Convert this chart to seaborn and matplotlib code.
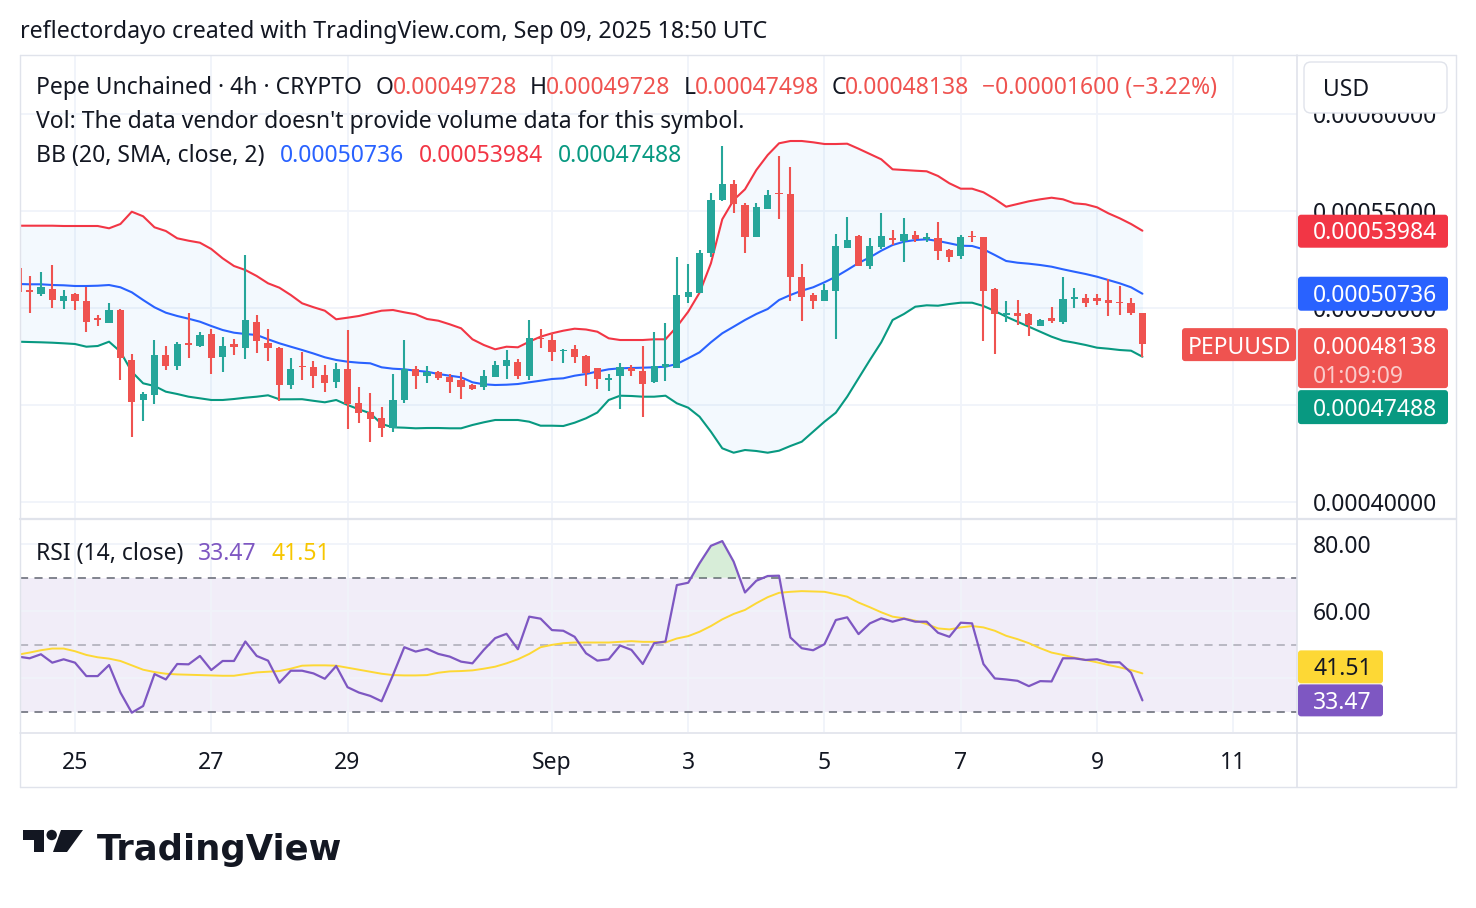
import numpy as np
import pandas as pd
import matplotlib
matplotlib.use("Agg")
import matplotlib.pyplot as plt
import matplotlib.dates as mdates
from matplotlib.patches import FancyBboxPatch, Polygon, Circle
from matplotlib.lines import Line2D
from matplotlib.transforms import IdentityTransform
import seaborn as sns

# ---------------- data (prices in units of 1e-8 USD) ----------------
UNIT = 1e-8
opens = [52046, 50928, 50722, 50979, 50376, 50722, 50361, 49469, 49242, 49897,
         47320, 45258, 45515, 47577, 47026, 48180, 48057, 48660, 47490, 48144,
         47954, 49278, 48180, 47954, 46031, 47010, 46948, 46546, 46201, 46856,
         45088, 44624, 44330, 43799, 45258, 46856, 46510, 46685, 46459, 46289,
         46031, 45912, 46459, 47010, 47232, 46495, 48454, 48350, 47783, 47871,
         47526, 46892, 46289, 46510, 46923, 46753, 46201, 46974, 46923, 50583,
         50789, 52851, 55567, 56392, 55309, 53675, 55103, 55943, 55876, 51613,
         50670, 50376, 50892, 53077, 53711, 52165, 53160, 53593, 53454, 53763,
         53572, 53624, 52990, 52696, 53727, 53675, 50964, 49639, 49727, 49691,
         49088, 49484, 49294, 50448, 50500, 50500, 50412, 50325, 50242, 49728]
highs = [52165, 51649, 51871, 52216, 50928, 50758, 51067, 49639, 50273, 49964,
         47629, 45670, 48350, 48057, 48263, 49727, 48763, 48902, 48521, 48387,
         52732, 49639, 48917, 48005, 47407, 47747, 47268, 47062, 47149, 48866,
         45943, 45603, 44912, 46598, 48350, 47010, 47010, 46768, 46598, 46716,
         46082, 46804, 47268, 47835, 47371, 49381, 48902, 48727, 47871, 48077,
         47577, 46923, 46582, 47149, 47062, 48041, 48778, 49242, 52644, 52268,
         52990, 55912, 58366, 56598, 55428, 55428, 56082, 57835, 57283, 52268,
         50758, 51237, 53814, 54675, 53763, 53593, 54912, 54021, 54655, 53985,
         53881, 54448, 53026, 53763, 53969, 53675, 51015, 50361, 50412, 49758,
         49418, 50067, 51582, 51015, 50722, 50722, 51479, 51134, 50500, 49728]
lows = [50773, 49742, 50634, 50015, 49964, 49897, 48778, 49088, 49211, 46289,
        43366, 44191, 45067, 46804, 46804, 47438, 48005, 46598, 46701, 47577,
        47371, 47696, 47283, 45222, 45840, 46263, 45902, 45686, 45892, 43763,
        44088, 43108, 43366, 43624, 45119, 45825, 46149, 46289, 45634, 45309,
        45773, 45773, 46459, 46325, 46325, 46289, 47923, 47283, 47180, 47149,
        45979, 45825, 45737, 44778, 46495, 44397, 46118, 46253, 46923, 50242,
        50758, 52613, 55531, 54881, 52851, 53675, 55103, 54588, 50376, 49345,
        49948, 50376, 48402, 53077, 52180, 52010, 53041, 53247, 52387, 53418,
        53418, 52474, 52387, 52526, 53418, 48299, 47629, 49294, 49124, 48557,
        49072, 49211, 49160, 49984, 50036, 50155, 49603, 49639, 49639, 47498]
closes = [50840, 50825, 51067, 50428, 50618, 50376, 49294, 49381, 49897, 47438,
          45170, 45567, 47577, 47026, 48144, 48108, 48608, 47438, 48041, 48005,
          49381, 48314, 47954, 46031, 46856, 46959, 46510, 46149, 46856, 45052,
          44603, 44278, 43799, 45258, 46856, 46510, 46685, 46407, 46201, 45943,
          45825, 46495, 47062, 47320, 46495, 48438, 48387, 47747, 47835, 47490,
          46665, 46325, 46392, 46943, 46753, 46082, 47010, 47098, 50670, 50825,
          52851, 55567, 56392, 55361, 53675, 55191, 55825, 55861, 51582, 50583,
          50376, 50928, 53196, 53505, 52180, 53196, 53711, 53505, 53814, 53541,
          53644, 52954, 52644, 53675, 53644, 50892, 49691, 49758, 49588, 49124,
          49381, 49345, 50464, 50551, 50273, 50376, 50242, 50242, 49738, 48138]
bb_upper = [54242, 54242, 54242, 54242, 54227, 54227, 54227, 54227, 54108, 54330,
            54964, 54727, 54160, 53969, 53593, 53469, 53366, 53041, 52562, 52165,
            51959, 51649, 51273, 51046, 50670, 50242, 50041, 49861, 49418, 49500,
            49588, 49727, 49861, 49897, 49778, 49675, 49433, 49345, 49160, 48954,
            48387, 48093, 47871, 48005, 47974, 48263, 48521, 48696, 48830, 48933,
            48892, 48778, 48438, 48350, 48350, 48350, 48387, 48387, 49036, 49809,
            50789, 52304, 54572, 55567, 56118, 57113, 57886, 58490, 58608, 58608,
            58541, 58453, 58453, 58469, 58211, 57938, 57665, 57149, 57113, 57077,
            57046, 56804, 56428, 56150, 56150, 55964, 55618, 55222, 55361, 55500,
            55603, 55685, 55603, 55397, 55345, 55191, 54881, 54624, 54330, 53984]
bb_basis = [51237, 51222, 51222, 51185, 51170, 51134, 51134, 51149, 51185, 51067,
            50809, 50412, 50036, 49758, 49588, 49448, 49294, 49072, 48866, 48727,
            48660, 48608, 48387, 48180, 48005, 47835, 47655, 47459, 47320, 47232,
            47180, 47149, 46943, 46871, 46840, 46768, 46716, 46598, 46510, 46428,
            46170, 46067, 46031, 46046, 46082, 46170, 46253, 46340, 46376, 46510,
            46598, 46727, 46840, 46892, 46907, 46923, 46943, 46974, 47113, 47407,
            47716, 48232, 48696, 49036, 49381, 49691, 49948, 50412, 50670, 50892,
            51067, 51325, 51613, 51959, 52320, 52613, 52954, 53247, 53418, 53505,
            53541, 53454, 53335, 53211, 53196, 53026, 52732, 52423, 52335, 52284,
            52216, 52129, 51995, 51871, 51752, 51613, 51443, 51273, 51067, 50736]
bb_lower = [48263, 48247, 48232, 48211, 48180, 48144, 48005, 48041, 48263, 47747,
            46716, 46118, 45979, 45686, 45567, 45428, 45345, 45258, 45258, 45309,
            45376, 45428, 45500, 45294, 45294, 45299, 45216, 45139, 45258, 45000,
            44778, 44572, 44021, 43850, 43830, 43799, 43814, 43814, 43799, 43799,
            43969, 44108, 44227, 44227, 44227, 44139, 43933, 43933, 43917, 44088,
            44314, 44613, 45258, 45479, 45464, 45428, 45428, 45479, 45088, 44861,
            44397, 43624, 42768, 42541, 42680, 42629, 42541, 42644, 42887, 43108,
            43624, 44139, 44603, 45428, 46376, 47320, 48232, 49381, 49691, 50067,
            50139, 50118, 50206, 50273, 50273, 50103, 49845, 49552, 49294, 49036,
            48778, 48521, 48314, 48211, 48093, 47954, 47902, 47835, 47799, 47488]
rsi = [46.5, 46.0, 47.2, 44.7, 45.7, 44.7, 40.7, 40.7, 44.0, 35.8,
       29.8, 31.8, 41.3, 39.7, 44.3, 44.2, 46.7, 42.5, 45.2, 45.2,
       51.0, 46.7, 45.3, 38.7, 42.3, 42.3, 41.5, 39.9, 43.7, 37.4,
       35.8, 34.8, 33.2, 41.0, 49.3, 48.0, 48.8, 47.3, 46.5, 45.0,
       44.5, 48.5, 52.0, 53.3, 48.7, 58.4, 57.8, 54.4, 54.2, 52.4,
       47.5, 45.3, 45.7, 49.8, 48.5, 44.3, 50.5, 51.0, 67.8, 68.5,
       74.3, 79.5, 80.9, 74.8, 65.6, 69.1, 70.5, 70.6, 52.2, 49.0,
       48.4, 50.2, 57.4, 58.2, 53.2, 56.4, 57.9, 56.9, 57.8, 56.9,
       56.9, 53.6, 52.4, 56.6, 56.4, 44.3, 40.0, 39.7, 39.3, 37.7,
       39.2, 39.1, 46.0, 46.0, 45.5, 45.7, 44.8, 44.8, 41.7, 33.47]
rsi_ma = [47.1, 47.7, 48.4, 48.9, 48.9, 48.1, 47.0, 46.3, 45.9, 45.2,
          43.9, 42.6, 41.9, 41.4, 41.2, 41.1, 41.0, 40.9, 40.8, 40.8,
          41.3, 41.8, 42.0, 42.2, 42.9, 43.8, 43.9, 43.9, 43.8, 43.2,
          42.6, 42.0, 41.4, 41.0, 40.9, 40.9, 41.0, 41.7, 42.1, 42.2,
          42.4, 42.9, 43.5, 44.5, 45.7, 47.3, 49.3, 50.0, 50.5, 50.7,
          50.7, 50.7, 50.7, 50.9, 51.1, 50.9, 50.9, 50.7, 51.9, 52.6,
          53.9, 55.6, 57.6, 59.2, 60.4, 62.4, 64.2, 65.5, 65.8, 66.0,
          65.9, 65.8, 65.1, 64.35, 62.6, 61.2, 59.7, 58.4, 57.9, 57.2,
          56.2, 54.9, 54.6, 55.2, 55.6, 55.2, 54.2, 52.7, 51.7, 50.5,
          49.0, 47.7, 47.0, 46.2, 45.5, 44.8, 44.0, 43.3, 42.5, 41.51]
first_candle = "2025-08-24 04:00"
tick_dates = ["2025-08-25", "2025-08-27", "2025-08-29", "2025-09-01", "2025-09-03",
              "2025-09-05", "2025-09-07", "2025-09-09", "2025-09-11"]
tick_labels = ["25", "27", "29", "Sep", "3", "5", "7", "9", "11"]
price_ticks = [0.00040, 0.00045, 0.00050, 0.00055, 0.00060]
rsi_ticks = [40, 60, 80]
rsi_tick_labels = ["", "60.00", "80.00"]   # 40.00 is hidden behind the value tags
symbol = "PEPUUSD"
countdown = "01:09:09"
title = "reflectordayo created with TradingView.com, Sep 09, 2025 18:50 UTC"
header = "Pepe Unchained · 4h · CRYPTO"
vol_text = "Vol: The data vendor doesn't provide volume data for this symbol."
bb_text = "BB (20, SMA, close, 2)"
rsi_text = "RSI (14, close)"

# ---------------- styling ----------------
sns.set_theme(style="white")
FONT = ["Noto Sans", "DejaVu Sans"]
plt.rcParams["font.family"] = FONT
TXT = "#131722"
UP, DOWN = "#26a69a", "#ef5350"
GRID = "#f0f3fa"
BORDER = "#e0e3eb"
FS = 16.5
DY = 2.5

O = np.array(opens) * UNIT
Hh = np.array(highs) * UNIT
Lw = np.array(lows) * UNIT
C = np.array(closes) * UNIT
U = np.array(bb_upper) * UNIT
M = np.array(bb_basis) * UNIT
Lo = np.array(bb_lower) * UNIT
R = np.array(rsi)
RM = np.array(rsi_ma)

times = pd.date_range(first_candle, periods=len(closes), freq="4h")
xn = mdates.date2num(times)
tnums = mdates.date2num(pd.to_datetime(tick_dates))

W, H = 1476, 908
fig = plt.figure(figsize=(W / 100, H / 100), dpi=100)
fig.patch.set_facecolor("white")


def fx(x):
    return x / W


def fy(y):
    return 1 - y / H


ax = fig.add_axes([fx(20), fy(518), fx(1297) - fx(20), fy(55) - fy(518)])
ax2 = fig.add_axes([fx(20), fy(732), fx(1297) - fx(20), fy(520) - fy(732)], sharex=ax)

px_per_day = (1097 - 75) / 15.0
d25 = tnums[0]
ax.set_xlim(d25 - 55 / px_per_day, d25 + 1222 / px_per_day)
ymin = 0.00040 - 16 * (0.00005 / 97)
ymax = 0.00040 + 447 * (0.00005 / 97)
ax.set_ylim(ymin, ymax)
rmin = 70 - 154.3 / 3.358
rmax = 70 + 57.7 / 3.358
ax2.set_ylim(rmin, rmax)

for a in (ax, ax2):
    for s in a.spines.values():
        s.set_visible(False)
    a.set_facecolor("white")
    a.set_axisbelow(True)
    a.grid(True, color=GRID, lw=1.3)
    a.set_xticks(tnums)

# ---- price pane ----
ax.fill_between(xn, U, Lo, color="#2196f3", alpha=0.05, lw=0, zorder=1)
sns.lineplot(x=xn, y=U, ax=ax, color="#f23645", lw=1.5, zorder=2)
sns.lineplot(x=xn, y=M, ax=ax, color="#2962ff", lw=1.5, zorder=2)
sns.lineplot(x=xn, y=Lo, ax=ax, color="#089981", lw=1.5, zorder=2)

colors = np.where(C >= O, UP, DOWN)
dp = (ymax - ymin) / 463.0
body_lo = np.minimum(O, C)
body_h = np.abs(C - O)
small = body_h < 1.6 * dp
body_lo = np.where(small, (O + C) / 2 - 0.8 * dp, body_lo)
body_h = np.where(small, 1.6 * dp, body_h)
ax.vlines(xn, Lw, Hh, colors=colors, lw=1.5, zorder=3)
ax.bar(xn, body_h, bottom=body_lo, width=7.2 / px_per_day, color=colors, lw=0, zorder=4)

ax.yaxis.tick_right()
ax.set_yticks(price_ticks)
ax.set_yticklabels([f"{v:.8f}" for v in price_ticks])
ax.tick_params(axis="y", length=0, pad=11.5, labelsize=FS, labelcolor=TXT)
ax.tick_params(axis="x", length=0, labelbottom=False)
ax.set_xlabel("")
ax.set_ylabel("")

# ---- RSI pane ----
ax2.axhspan(30, 70, color="#7e57c2", alpha=0.1, lw=0, zorder=0.5)
ax2.axhline(70, color="#787b86", lw=1.3, ls=(0, (4.5, 3.5)), zorder=1)
ax2.axhline(50, color="#787b86", lw=1.3, ls=(0, (4.5, 3.5)), alpha=0.5, zorder=1)
ax2.axhline(30, color="#787b86", lw=1.3, ls=(0, (4.5, 3.5)), zorder=1)
ax2.fill_between(xn, R, 70, where=R > 70, interpolate=True, color="#4caf50", alpha=0.22, lw=0, zorder=1.5)
sns.lineplot(x=xn, y=RM, ax=ax2, color="#fdd835", lw=1.4, zorder=2)
sns.lineplot(x=xn, y=R, ax=ax2, color="#7e57c2", lw=1.6, zorder=3)
ax2.yaxis.tick_right()
ax2.set_yticks(rsi_ticks)
ax2.set_yticklabels(rsi_tick_labels)
ax2.tick_params(axis="y", length=0, pad=11.5, labelsize=FS, labelcolor=TXT)
ax2.set_xticklabels(tick_labels)
ax2.tick_params(axis="x", length=0, pad=13.5, labelsize=FS, labelcolor=TXT)
for lab in ax2.get_xticklabels():
    if lab.get_text() == "Sep":
        lab.set_fontweight("bold")
ax2.set_xlabel("")
ax2.set_ylabel("")

# ---------------- frame lines ----------------
ID = IdentityTransform()


def hline(y, x0, x1, lw=1.0, color=BORDER):
    fig.add_artist(Line2D([x0, x1], [H - y, H - y], transform=ID, color=color, lw=lw))


def vline(x, y0, y1, lw=1.0, color=BORDER):
    fig.add_artist(Line2D([x, x], [H - y0, H - y1], transform=ID, color=color, lw=lw))


hline(55, 20, 1456)
hline(787, 20, 1456)
vline(20, 55, 787)
vline(1456, 55, 787)
hline(519, 20, 1456, lw=1.6)
hline(733, 20, 1456, lw=1.2)
vline(1297, 55, 787, lw=1.2)

# ---------------- text ----------------
fig.text(fx(20), fy(30 + DY), title, fontsize=16.7, color=TXT, va="center", ha="left")
renderer = fig.canvas.get_renderer()


def segments(x, y, parts):
    for s, col, gap in parts:
        t = fig.text(fx(x), fy(y + DY), s, color=col, fontsize=FS, va="center", ha="left")
        bb = t.get_window_extent(renderer=renderer)
        x = x + bb.width + gap


RED = "#f23645"
chg = closes[-1] - closes[-2]
pct = chg / closes[-2] * 100
segments(36, 85, [(header, TXT, 14), ("O", TXT, -1), (f"{O[-1]:.8f}", DOWN, 13),
                  ("H", TXT, -1), (f"{Hh[-1]:.8f}", DOWN, 13),
                  ("L", TXT, -1), (f"{Lw[-1]:.8f}", DOWN, 13),
                  ("C", TXT, -1), (f"{C[-1]:.8f}", DOWN, 13),
                  (f"\u2212{abs(chg) * UNIT:.8f} (\u2212{abs(pct):.2f}%)", DOWN, 0)])
segments(36, 119, [(vol_text, TXT, 0)])
segments(36, 153, [(bb_text, TXT, 15), (f"{M[-1]:.8f}", "#2962ff", 15),
                   (f"{U[-1]:.8f}", RED, 15), (f"{Lo[-1]:.8f}", "#089981", 0)])
segments(36, 551, [(rsi_text, TXT, 15), (f"{R[-1]:.2f}", "#7e57c2", 15),
                   (f"{RM[-1]:.2f}", "#f7c600", 0)])


# ---------------- price tags ----------------
def ypx(a, v):
    return H - a.transData.transform((0, v))[1]


def box(x0, x1, y0, y1, fc, ec="none", r=3):
    fig.add_artist(FancyBboxPatch((x0, H - y1), x1 - x0, y1 - y0, transform=ID,
                                  boxstyle=f"round,pad=0,rounding_size={r}", fc=fc, ec=ec, lw=1, zorder=5))


def label(x, y, s, col, ha="left", alpha=1.0):
    fig.text(x, H - (y + DY), s, transform=ID, color=col, fontsize=FS, va="center", ha=ha,
             alpha=alpha, zorder=6)


box(1304, 1447, 62, 113, "white", ec=BORDER, r=7)
label(1323, 88, "USD", TXT)

yu = ypx(ax, U[-1])
box(1298, 1448, yu - 16, yu + 17, "#f23645")
label(1313, yu, f"{U[-1]:.8f}", "white")

ym = ypx(ax, M[-1])
box(1298, 1448, ym - 17, ym + 17, "#2962ff")
label(1313, ym, f"{M[-1]:.8f}", "white")

yc = ypx(ax, C[-1])
box(1298, 1448, yc - 16, yc + 44, "#ef5350")
label(1313, yc + 1, f"{C[-1]:.8f}", "white")
label(1313, yc + 30, countdown, "white", alpha=0.7)
box(1182, 1296, yc - 16, yc + 17, "#ef5350")
label(1239, yc + 1, symbol, "white", ha="center")

yl = yc + 63
box(1298, 1448, yl - 17, yl + 17, "#089981")
label(1313, yl, f"{Lo[-1]:.8f}", "white")

yr = ypx(ax2, R[-1])
box(1298, 1383, yr - 16, yr + 16, "#7e57c2")
label(1313, yr, f"{R[-1]:.2f}", "white")
ya = yr - 34
box(1298, 1383, ya - 16, ya + 17, "#fdd835")
label(1313, ya, f"{RM[-1]:.2f}", TXT)


# ---------------- TradingView logo ----------------
def P(pts):
    return [(x, H - y) for x, y in pts]


fig.add_artist(Polygon(P([(23, 830), (44, 830), (44, 852), (34, 852), (34, 840), (23, 840)]),
                       closed=True, transform=ID, fc="#131722", ec="none"))
fig.add_artist(Circle((51.7, H - 835), 5.2, transform=ID, fc="#131722", ec="none"))
fig.add_artist(Polygon(P([(61, 830), (83, 830), (67, 852), (53, 852)]),
                       closed=True, transform=ID, fc="#131722", ec="none"))
fig.text(fx(97), fy(850), "TradingView", fontsize=25.5, fontweight="bold", color="#131722",
         family=["DejaVu Sans"], va="center", ha="left")

fig.savefig("out.png", dpi=100, facecolor="white")
